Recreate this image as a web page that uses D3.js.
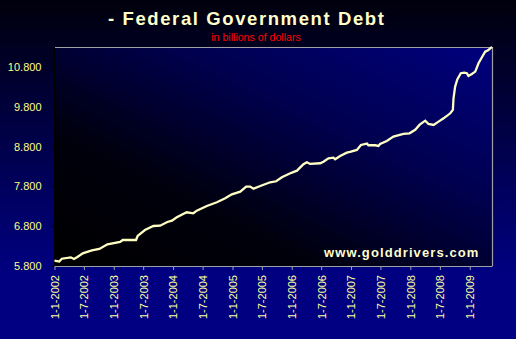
<!DOCTYPE html>
<html>
<head>
<meta charset="utf-8">
<script src="https://cdn.jsdelivr.net/npm/d3@7"></script>
<style>
  html, body { margin: 0; padding: 0; background: #000050; }
  svg { display: block; }
  text { font-family: "Liberation Sans", Arial, sans-serif; }
</style>
</head>
<body>
<svg id="chart" width="516" height="339"></svg>
<script>
// ---- data ----
const dates = [
  "2002-01-01","2002-01-30","2002-02-15","2002-04-11","2002-05-01","2002-05-22","2002-06-24",
  "2002-08-19","2002-10-04","2002-11-23","2003-02-09","2003-02-25","2003-05-18","2003-05-28",
  "2003-07-12","2003-09-02","2003-10-13","2003-11-27","2003-12-25","2004-01-24","2004-03-25",
  "2004-05-05","2004-05-26","2004-07-27","2004-09-27","2004-11-17","2004-12-28","2005-02-18",
  "2005-03-26","2005-04-20","2005-05-10","2005-06-21","2005-08-21","2005-09-27","2005-11-01",
  "2005-12-23","2006-01-02","2006-02-02","2006-03-14","2006-04-04","2006-04-24","2006-06-25",
  "2006-07-15","2006-08-15","2006-09-15","2006-09-25","2006-10-26","2006-12-06","2006-12-26",
  "2007-02-06","2007-03-03","2007-04-09","2007-04-18","2007-05-30","2007-06-19","2007-06-29",
  "2007-08-09","2007-09-19","2007-11-20","2007-12-27","2008-01-31","2008-02-28","2008-04-02",
  "2008-04-22","2008-05-23","2008-06-23","2008-07-24","2008-09-03","2008-09-19","2008-09-23",
  "2008-10-03","2008-10-17","2008-11-07","2008-11-28","2008-12-14","2008-12-24","2009-01-14",
  "2009-02-04","2009-02-24","2009-03-17","2009-04-06","2009-04-26","2009-05-11","2009-05-18"
];
const debt = [
  5933,5910,5983,6018,5975,6026,6119,
  6194,6227,6345,6403,6453,6453,6554,
  6704,6805,6813,6905,6938,7023,7149,
  7124,7190,7307,7400,7500,7601,7667,
  7793,7793,7742,7810,7903,7928,8029,
  8129,8144,8194,8355,8405,8363,8380,
  8420,8506,8521,8481,8564,8647,8664,
  8714,8840,8873,8832,8832,8815,8865,
  8941,9049,9116,9133,9220,9350,9450,
  9367,9342,9425,9509,9635,9720,10013,
  10305,10490,10641,10657,10641,10574,10624,
  10682,10892,11043,11183,11226,11276,11300
];
const yTicks = [5800, 6800, 7800, 8800, 9800, 10800];
const xTickDates = ["2002-01-01","2002-07-01","2003-01-01","2003-07-01","2004-01-01","2004-07-01",
  "2005-01-01","2005-07-01","2006-01-01","2006-07-01","2007-01-01","2007-07-01",
  "2008-01-01","2008-07-01","2009-01-01"];
const title = "- Federal Government Debt";
const subtitle = "in billions of dollars";
const watermark = "www.golddrivers.com";

// ---- layout ----
const W = 516, H = 339;
const plot = { left: 54.5, right: 492, top: 47, bottom: 266 };

const parse = d3.utcParse("%Y-%m-%d");
const series = dates.map((d, i) => ({ date: parse(d), value: debt[i] }));

const svg = d3.select("#chart");
const defs = svg.append("defs");

const bg = defs.append("linearGradient").attr("id", "bg")
  .attr("x1", 0).attr("y1", 0).attr("x2", 0).attr("y2", 1);
bg.append("stop").attr("offset", 0).attr("stop-color", "#00000c");
bg.append("stop").attr("offset", 0.35).attr("stop-color", "#000040");
bg.append("stop").attr("offset", 0.8).attr("stop-color", "#000080");
bg.append("stop").attr("offset", 1).attr("stop-color", "#000082");

const pg = defs.append("linearGradient").attr("id", "pg")
  .attr("x1", 0).attr("y1", 1).attr("x2", 1).attr("y2", 0);
pg.append("stop").attr("offset", 0).attr("stop-color", "#000000");
pg.append("stop").attr("offset", 0.3).attr("stop-color", "#00000c");
pg.append("stop").attr("offset", 0.65).attr("stop-color", "#000050");
pg.append("stop").attr("offset", 1).attr("stop-color", "#00007e");

svg.append("rect").attr("width", W).attr("height", H).attr("fill", "url(#bg)");

const x = d3.scaleUtc()
  .domain([parse("2002-01-01"), parse("2009-05-18")])
  .range([plot.left, plot.right]);
const y = d3.scaleLinear()
  .domain([5800, 11300])
  .range([plot.bottom, plot.top]);

svg.append("rect")
  .attr("x", plot.left).attr("y", plot.top)
  .attr("width", plot.right - plot.left).attr("height", plot.bottom - plot.top)
  .attr("fill", "url(#pg)");

// border: top and right gray
svg.append("path")
  .attr("d", `M${plot.left},${plot.top + 0.5}H${plot.right + 0.5}V${plot.bottom}`)
  .attr("fill", "none").attr("stroke", "#a0a0a4").attr("stroke-width", 1.2);
svg.append("line")
  .attr("x1", plot.left).attr("x2", plot.left)
  .attr("y1", plot.top).attr("y2", plot.bottom)
  .attr("stroke", "#000000").attr("stroke-width", 1);

// line
const line = d3.line().x(d => x(d.date)).y(d => y(d.value));
svg.append("path").datum(series)
  .attr("d", line)
  .attr("fill", "none")
  .attr("stroke", "#ffffc4")
  .attr("stroke-width", 2.3)
  .attr("stroke-linejoin", "miter");

// y axis
const locale = d3.formatLocale({ decimal: ",", thousands: ".", grouping: [3], currency: ["", ""] });
const yFmt = locale.format(",.0f");
const yAxis = d3.axisLeft(y).tickValues(yTicks).tickFormat(yFmt).tickSize(3).tickPadding(10);
const gy = svg.append("g").attr("transform", `translate(${plot.left},0)`).call(yAxis);
gy.select(".domain").remove();
gy.selectAll(".tick line").attr("stroke", "#000000");
gy.selectAll(".tick text")
  .attr("fill", "#ffff80")
  .style("font-size", "11px")
  .style("font-family", "'Liberation Sans', Arial, sans-serif");

// x axis
const xFmt = d3.utcFormat("%-d-%-m-%Y");
const xAxis = d3.axisBottom(x).tickValues(xTickDates.map(parse)).tickFormat(xFmt).tickSize(4).tickSizeOuter(0);
const gx = svg.append("g").attr("transform", `translate(0,${plot.bottom})`).call(xAxis);
gx.select(".domain").attr("stroke", "#a0a0a4").attr("stroke-width", 1.2);
gx.selectAll(".tick line").attr("stroke", "#a0a0a4");
gx.selectAll(".tick text")
  .attr("fill", "#ffffa0")
  .style("font-size", "11px")
  .style("font-family", "'Liberation Sans', Arial, sans-serif")
  .attr("text-anchor", "end")
  .attr("transform", "rotate(-90)")
  .attr("x", -9)
  .attr("y", 0)
  .attr("dy", "0.35em");

// titles
svg.append("text")
  .attr("x", 108).attr("y", 25)
  .attr("fill", "#ffffc8")
  .style("font-size", "18.5px")
  .style("font-weight", "bold")
  .style("letter-spacing", "1.6px")
  .text(title);

svg.append("text")
  .attr("x", 256).attr("y", 40.5)
  .attr("text-anchor", "middle")
  .attr("fill", "#ff0000")
  .style("font-size", "10.6px")
  .text(subtitle);

svg.append("text")
  .attr("x", 324).attr("y", 257)
  .attr("fill", "#ffffcc")
  .style("font-size", "13px")
  .style("font-weight", "bold")
  .style("letter-spacing", "1.1px")
  .text(watermark);
</script>
</body>
</html>
